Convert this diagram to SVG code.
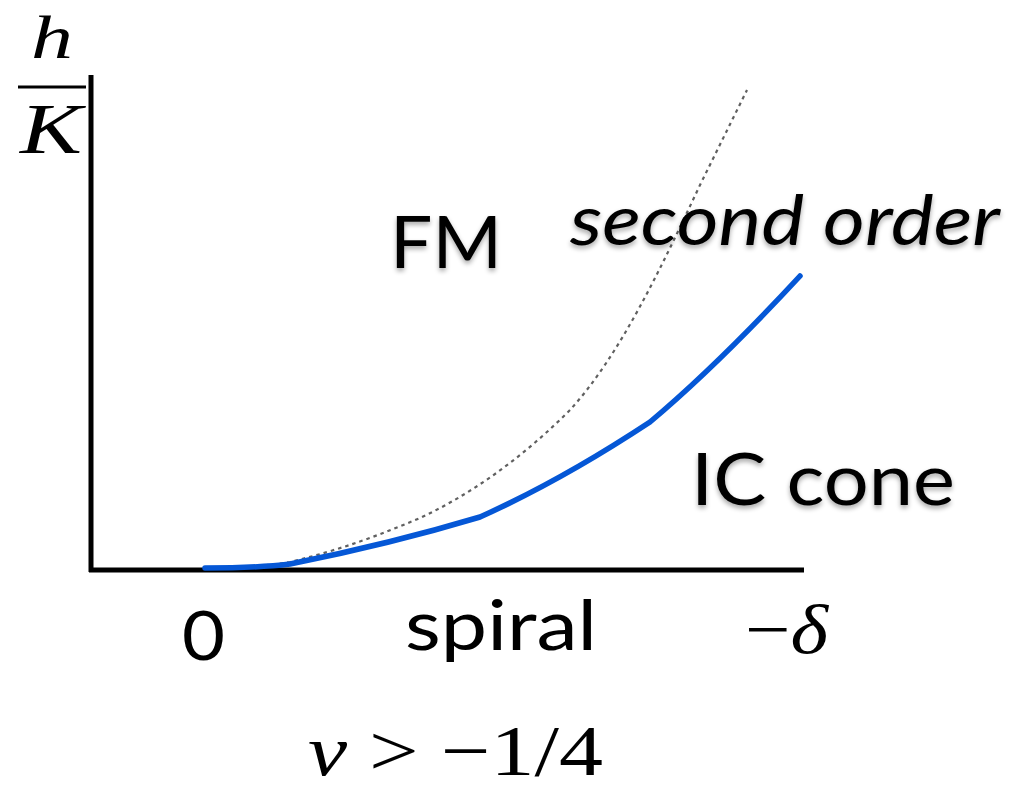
<svg xmlns="http://www.w3.org/2000/svg" width="1032" height="791" viewBox="0 0 1032 791">
<defs>
<filter id="sh" x="-10%" y="-20%" width="120%" height="150%">
<feGaussianBlur in="SourceAlpha" stdDeviation="2.5"/>
<feOffset dx="0" dy="3" result="b"/>
<feComponentTransfer><feFuncA type="linear" slope="0.35"/></feComponentTransfer>
<feMerge><feMergeNode/><feMergeNode in="SourceGraphic"/></feMerge>
</filter>
</defs>
<style>
.ax{stroke:#000;stroke-width:5;fill:none}
.math{font-family:"Liberation Serif","DejaVu Serif",serif;fill:#000}
.lbl{font-family:Lato,"Noto Sans",sans-serif;fill:#000}
.blue{stroke:#0557d6;stroke-width:5.5;fill:none;stroke-linecap:round}
.dot{stroke:#606060;stroke-width:2.2;fill:none;stroke-dasharray:3.5 4}
</style>
<rect width="1032" height="791" fill="#fff"/>
<g id="axes">
<line class="ax" x1="91" y1="75" x2="91" y2="572"/>
<line class="ax" x1="89" y1="570" x2="804" y2="570"/>
</g>
<g id="connectors">
<path id="second-order-curve" class="dot" d="M205,569 C240,568 265,566 290,562 C340,550 380,535 420,518 C480,490 530,450 570,410 C620,355 660,270 700,185 L747,90"/>
<path id="ic-cone-curve" class="blue" d="M205,568 C240,568 265,567 290,564 C360,550 420,535 480,517 C540,490 600,455 650,422 C700,380 750,330 800,276"/>
</g>
<g id="y-label">
<text class="math" x="31" y="58" font-size="62" font-style="italic" textLength="42" lengthAdjust="spacingAndGlyphs">h</text>
<line x1="18" y1="87" x2="86" y2="87" stroke="#000" stroke-width="3"/>
<text class="math" x="20" y="153" font-size="72" font-style="italic" textLength="62" lengthAdjust="spacingAndGlyphs">K</text>
</g>
<g id="fm" filter="url(#sh)"><text class="lbl" x="390" y="268" font-size="72" textLength="112" lengthAdjust="spacingAndGlyphs">FM</text></g>
<g id="second-order" filter="url(#sh)"><text class="lbl" x="570" y="245" font-size="70" font-style="italic" textLength="430" lengthAdjust="spacingAndGlyphs">second order</text></g>
<g id="ic-cone" filter="url(#sh)"><text class="lbl" x="691" y="505" font-size="72" textLength="264" lengthAdjust="spacingAndGlyphs">IC cone</text></g>
<g id="zero"><text class="lbl" x="182" y="660" font-size="68" textLength="43" lengthAdjust="spacingAndGlyphs">0</text></g>
<g id="spiral"><text class="lbl" x="405" y="650" font-size="70" textLength="192" lengthAdjust="spacingAndGlyphs">spiral</text></g>
<g id="minus-delta"><text class="math" x="745" y="653" font-size="70" textLength="83" lengthAdjust="spacingAndGlyphs">−<tspan font-style="italic">δ</tspan></text></g>
<g id="x-label"><text class="math" x="308" y="775" font-size="72" textLength="295" lengthAdjust="spacingAndGlyphs"><tspan font-style="italic">v</tspan> &gt; −1/4</text></g>
</svg>
